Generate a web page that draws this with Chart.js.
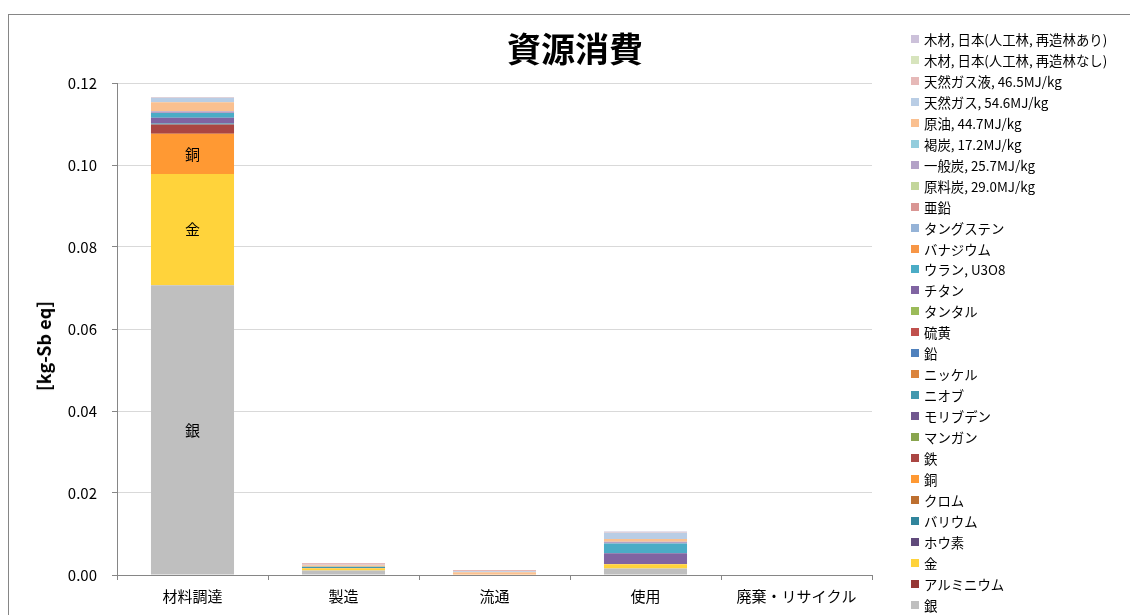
<!DOCTYPE html>
<html lang="ja">
<head>
<meta charset="utf-8">
<title>資源消費</title>
<script src="https://cdn.jsdelivr.net/npm/chart.js@4.4.1/dist/chart.umd.min.js"></script>
<style>
  html, body { margin: 0; padding: 0; background: #fff; }
  body { width: 1130px; height: 615px; position: relative; overflow: hidden; font-family: 'Noto Sans CJK JP', sans-serif; }
  #frame { position: absolute; left: 8px; top: 14px; width: 1300px; height: 800px; border: 1px solid #868686; box-sizing: border-box; }
  #chart { position: absolute; left: 0; top: 0; }
  #title { position: absolute; left: 575px; top: 29px; transform: translateX(-50%); font-size: 34px; line-height: 38px; font-weight: bold; color: #000; white-space: nowrap; }
  #ytitle { position: absolute; left: 43px; top: 346px; transform: translate(-50%, -50%) rotate(-90deg); font-size: 18px; font-weight: bold; color: #000; white-space: nowrap; }
  #legend { position: absolute; left: 911px; top: 28.5px; font-size: 13.4px; color: #000; }
  #legend .row { display: flex; align-items: center; height: 20.96px; white-space: nowrap; }
  #legend .box { width: 8px; height: 8px; margin-right: 5px; flex: none; }
</style>
</head>
<body>
<div id="frame"></div>
<canvas id="chart" width="1130" height="615"></canvas>
<div id="title">資源消費</div>
<div id="ytitle">[kg-Sb eq]</div>
<div id="legend"></div>

<script>
// ライフサイクル段階
const categories = ['材料調達', '製造', '流通', '使用', '廃棄・リサイクル'];

// 各資源の寄与 [kg-Sb eq]（段階順）
const silver         = [0.0707, 0.0011, 0.0001, 0.0016, 0];
const aluminium      = [0, 0, 0, 0, 0];
const gold           = [0.0271, 0.0005, 0, 0.0010, 0];
const boron          = [0, 0, 0, 0, 0];
const barium         = [0, 0, 0, 0, 0];
const chromium       = [0, 0, 0, 0, 0];
const copper         = [0.0098, 0.0001, 0.0001, 0.0001, 0];
const iron           = [0.0023, 0, 0, 0, 0];
const manganese      = [0, 0, 0, 0, 0];
const molybdenum     = [0, 0, 0, 0, 0];
const niobium        = [0.0002, 0.0003, 0, 0, 0];
const nickel         = [0, 0, 0, 0, 0];
const lead           = [0, 0, 0, 0, 0];
const sulfur         = [0, 0, 0, 0, 0];
const tantalum       = [0, 0, 0, 0, 0];
const titanium       = [0.0014, 0, 0, 0.0026, 0];
const uranium        = [0.0012, 0, 0, 0.0024, 0];
const vanadium       = [0, 0, 0, 0, 0];
const tungsten       = [0, 0, 0, 0, 0];
const zinc           = [0, 0, 0, 0, 0];
const cokingCoal     = [0, 0, 0, 0, 0];
const steamCoal      = [0.0004, 0, 0, 0.0004, 0];
const lignite        = [0, 0, 0, 0, 0];
const crudeOil       = [0.0022, 0.0004, 0.0005, 0.0007, 0];
const naturalGas     = [0.0011, 0.0001, 0.0002, 0.0015, 0];
const ngl            = [0.0001, 0.0004, 0.0003, 0.0001, 0];
const woodNoReplant  = [0, 0, 0, 0, 0];
const woodReplant    = [0.0001, 0, 0, 0.0002, 0];

// 系列名と色（積み上げの下から順）
const seriesNames = [
  '銀', 'アルミニウム', '金', 'ホウ素', 'バリウム', 'クロム', '銅', '鉄', 'マンガン', 'モリブデン',
  'ニオブ', 'ニッケル', '鉛', '硫黄', 'タンタル', 'チタン', 'ウラン, U3O8', 'バナジウム', 'タングステン', '亜鉛',
  '原料炭, 29.0MJ/kg', '一般炭, 25.7MJ/kg', '褐炭, 17.2MJ/kg', '原油, 44.7MJ/kg', '天然ガス, 54.6MJ/kg',
  '天然ガス液, 46.5MJ/kg', '木材, 日本(人工林, 再造林なし)', '木材, 日本(人工林, 再造林あり)'
];
const seriesColors = [
  '#BFBFBF', '#953735', '#FFD33B', '#604A7B', '#31859C', '#BD6F30', '#FF9933', '#AA4643', '#89A54E', '#71588F',
  '#4198AF', '#DB843D', '#4F81BD', '#C0504D', '#9BBB59', '#8064A2', '#4BACC6', '#F79646', '#95B3D7', '#D99694',
  '#C3D69B', '#B3A2C7', '#93CDDD', '#FAC090', '#B9CDE5', '#E6B9B8', '#D7E4BD', '#CCC1DA'
];
const seriesValues = [
  silver, aluminium, gold, boron, barium, chromium, copper, iron, manganese, molybdenum,
  niobium, nickel, lead, sulfur, tantalum, titanium, uranium, vanadium, tungsten, zinc,
  cokingCoal, steamCoal, lignite, crudeOil, naturalGas, ngl, woodNoReplant, woodReplant
];

// 目盛り
const yMax = 0.12;
const yStep = 0.02;

// 棒の中に名前を書く系列
const barLabels = ['銀', '金', '銅'];

const FONT = "'Noto Sans CJK JP', sans-serif";

// 棒の中央に系列名を描く
const segmentLabelPlugin = {
  id: 'segmentLabels',
  afterDatasetsDraw(chart) {
    const ctx = chart.ctx;
    ctx.save();
    ctx.font = '15px ' + FONT;
    ctx.fillStyle = '#000';
    ctx.textAlign = 'center';
    ctx.textBaseline = 'middle';
    chart.data.datasets.forEach((ds, i) => {
      if (!barLabels.includes(ds.label)) return;
      const bar = chart.getDatasetMeta(i).data[0];
      ctx.fillText(ds.label, bar.x, (bar.y + bar.base) / 2);
    });
    ctx.restore();
  }
};

const datasets = seriesNames.map((name, i) => ({
  label: name,
  data: seriesValues[i],
  backgroundColor: seriesColors[i],
  borderWidth: 0,
  categoryPercentage: 0.55,
  barPercentage: 1
}));

new Chart(document.getElementById('chart'), {
  type: 'bar',
  data: { labels: categories, datasets },
  options: {
    responsive: false,
    animation: false,
    devicePixelRatio: 1,
    layout: { padding: { left: 0, top: 83, right: 258, bottom: 0 } },
    plugins: {
      legend: { display: false },
      title: { display: false },
      tooltip: { enabled: false }
    },
    scales: {
      x: {
        stacked: true,
        afterFit(scale) { scale.height = 40; },
        grid: { drawOnChartArea: false, offset: true, tickLength: 5, color: '#868686' },
        border: { color: '#868686' },
        ticks: { color: '#000', font: { family: FONT, size: 15 }, padding: 7, maxRotation: 0, autoSkip: false }
      },
      y: {
        stacked: true,
        min: 0,
        max: yMax,
        afterFit(scale) { scale.width = 117; },
        grid: { color: '#D9D9D9', tickColor: '#868686', tickLength: 5 },
        border: { color: '#868686' },
        ticks: {
          stepSize: yStep,
          color: '#000',
          font: { family: FONT, size: 15 },
          padding: 15,
          callback: v => v.toFixed(2)
        }
      }
    }
  },
  plugins: [segmentLabelPlugin]
});

// 凡例（上から積み上げの逆順）
const legend = document.getElementById('legend');
for (let i = seriesNames.length - 1; i >= 0; i--) {
  const row = document.createElement('div');
  row.className = 'row';
  const box = document.createElement('span');
  box.className = 'box';
  box.style.background = seriesColors[i];
  const txt = document.createElement('span');
  txt.textContent = seriesNames[i];
  row.appendChild(box);
  row.appendChild(txt);
  legend.appendChild(row);
}
</script>
</body>
</html>
